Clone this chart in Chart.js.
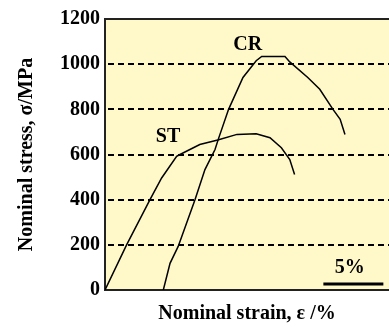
<!DOCTYPE html>
<html>
<head>
<meta charset="utf-8">
<script src="https://cdn.jsdelivr.net/npm/chart.js@4/dist/chart.umd.min.js"></script>
<style>
html,body{margin:0;padding:0;background:#fff;}
#wrap{width:389px;height:327px;position:relative;}
</style>
</head>
<body>
<div id="wrap"><canvas id="c" width="389" height="327"></canvas></div>
<script>
// Data
const stStrain = [0, 1.8, 3.75, 4.72, 5.97, 6.25, 7.9, 9.4, 11.0, 12.6, 13.75, 14.7, 15.4, 15.8];
const stStress = [0, 200, 400, 496, 592, 600, 644, 664, 689, 692, 674, 630, 578, 511];
const crStrain = [4.86, 5.42, 6.1, 7.5, 8.33, 9.17, 9.44, 10.3, 11.5, 12.6, 13.06, 15.0, 15.4, 16.9, 17.9, 19.0, 19.6, 20.0];
const crStress = [0, 118, 193, 400, 533, 622, 667, 800, 941, 1015, 1034, 1034, 1010, 941, 889, 800, 756, 689];
const yTicks = [0, 200, 400, 600, 800, 1000, 1200];
const seriesLabels = ['ST', 'CR'];
const labelPos = [[5.25, 680], [11.9, 1084]];
const scaleBarStrain = [18.2, 23.2];
const scaleBarStress = 27;
const scaleBarText = '5%';
const scaleBarTextPos = [20.4, 97];

const FONT = '"Liberation Serif", "Times New Roman", serif';
const toPts = (xs, ys) => xs.map((x, i) => ({x: x, y: ys[i]}));

const bgPlugin = {
  id: 'bg',
  beforeDraw(chart) {
    const {ctx, chartArea: a} = chart;
    ctx.save();
    ctx.fillStyle = '#FFF8C8';
    ctx.fillRect(a.left, a.top, a.right - a.left, a.bottom - a.top);
    ctx.restore();
  },
  beforeDatasetsDraw(chart) {
    // dashed horizontal grid lines at the y ticks (positions from the y scale)
    const {ctx, chartArea: a} = chart;
    const ys = chart.scales.y;
    ctx.save();
    ctx.strokeStyle = '#000';
    ctx.lineWidth = 2;
    ctx.setLineDash([6, 4]);
    yTicks.forEach(v => {
      if (v === 0 || v === 1200) return;
      const py = Math.round(ys.getPixelForValue(v));
      ctx.beginPath();
      ctx.moveTo(a.left + 3, py);
      ctx.lineTo(a.right, py);
      ctx.stroke();
    });
    ctx.restore();
  },
  afterDraw(chart) {
    const {ctx, chartArea: a} = chart;
    const xs = chart.scales.x, ys = chart.scales.y;
    ctx.save();
    ctx.strokeStyle = '#222';
    ctx.lineWidth = 2;
    ctx.beginPath();
    ctx.moveTo(a.left - 1, a.top);
    ctx.lineTo(a.right, a.top);
    ctx.stroke();
    ctx.fillStyle = '#000';
    ctx.font = 'bold 20px ' + FONT;
    ctx.textAlign = 'center';
    ctx.textBaseline = 'middle';
    seriesLabels.forEach((t, i) => {
      ctx.fillText(t, xs.getPixelForValue(labelPos[i][0]), ys.getPixelForValue(labelPos[i][1]));
    });
    ctx.fillText(scaleBarText, xs.getPixelForValue(scaleBarTextPos[0]), ys.getPixelForValue(scaleBarTextPos[1]));
    ctx.restore();
  }
};

new Chart(document.getElementById('c'), {
  type: 'scatter',
  data: {
    datasets: [
      {label: 'ST', data: toPts(stStrain, stStress), showLine: true, borderColor: '#000', borderWidth: 1.5, pointRadius: 0, tension: 0},
      {label: 'CR', data: toPts(crStrain, crStress), showLine: true, borderColor: '#000', borderWidth: 1.5, pointRadius: 0, tension: 0},
      {label: 'bar', data: toPts(scaleBarStrain, [scaleBarStress, scaleBarStress]), showLine: true, borderColor: '#000', borderWidth: 3, pointRadius: 0}
    ]
  },
  options: {
    responsive: false,
    animation: false,
    layout: {padding: {top: 19, right: 0, left: 0, bottom: 0}},
    plugins: {legend: {display: false}, tooltip: {enabled: false}},
    scales: {
      x: {
        type: 'linear', min: 0, max: 23.67,
        ticks: {display: false},
        grid: {display: false, drawTicks: false},
        border: {display: true, color: '#222', width: 2},
        title: {display: true, text: 'Nominal strain, ε /%', color: '#000', font: {family: FONT, size: 20, weight: 'bold'}, padding: {top: 0, bottom: 1}},
        afterFit(s) { s.height = 37; }
      },
      y: {
        type: 'linear', min: 0, max: 1200,
        afterBuildTicks(s) { s.ticks = yTicks.map(v => ({value: v})); },
        ticks: {color: '#000', padding: 5, font: {family: FONT, size: 20, weight: 'bold'}, callback: v => String(v)},
        grid: {display: false, drawTicks: false},
        border: {display: true, color: '#222', width: 2},
        title: {display: true, text: 'Nominal stress, σ/MPa', color: '#000', font: {family: FONT, size: 20, weight: 'bold'}, padding: {top: 15, bottom: 0}},
        afterFit(s) { s.width = 105; }
      }
    }
  },
  plugins: [bgPlugin]
});
</script>
</body>
</html>
